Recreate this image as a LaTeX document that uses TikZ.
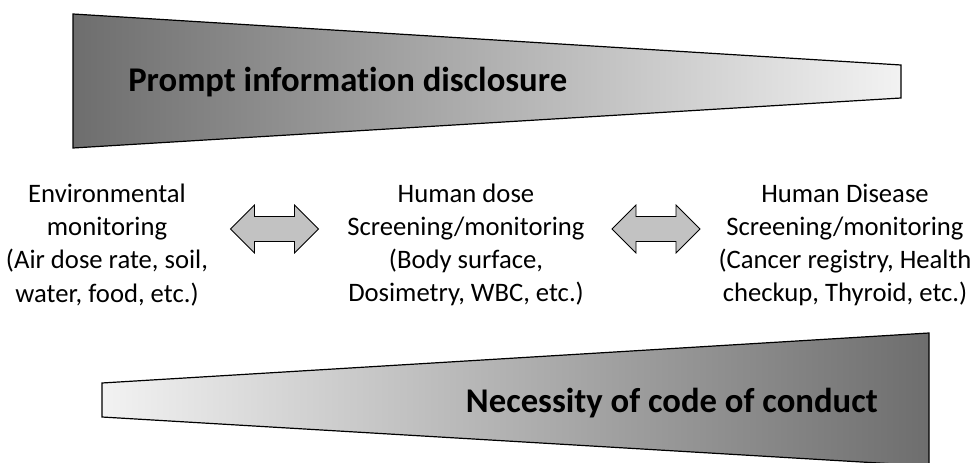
\documentclass[tikz,border=0pt]{standalone}
\usepackage{fontspec}
\setmainfont{Carlito}[Ligatures={NoCommon}]
\definecolor{wedgedark}{gray}{0.43}
\definecolor{wedgemid}{gray}{0.89}
\definecolor{wedgelight}{gray}{0.95}
\definecolor{arrowgray}{gray}{0.76}
\begin{document}
\begin{tikzpicture}[x=0.75pt, y=-0.75pt,
    wedge/.style={draw=black, line width=0.9pt},
    title/.style={inner sep=0pt, font=\fontsize{26}{30}\selectfont\bfseries},
    column/.style={align=center, inner sep=0pt, font=\fontsize{20}{24.8}\selectfont},
    twoway/.style={fill=arrowgray, draw=black, line width=0.6pt}]
    \useasboundingbox (0,0) rectangle (970,463);

    % Top wedge (dark on the left, thinning to the right)
    \draw[wedge, left color=wedgedark, middle color=wedgemid, right color=wedgelight]
        (73,14) -- (901,65) -- (901,98) -- (73,148) -- cycle;
    \node[title, anchor=base west] (prompt) at (128,92) {Prompt information disclosure};

    % Three columns of monitoring
    \node[column] (env) at (107,245) {Environmental\\monitoring\\(Air dose rate, soil,\\water, food, etc.)};
    \node[column] (dose) at (466,245) {Human dose\\Screening/monitoring\\(Body surface,\\Dosimetry, WBC, etc.)};
    \node[column] (disease) at (845,245) {Human Disease\\Screening/monitoring\\(Cancer registry, Health\\checkup, Thyroid, etc.)};

    % Double arrows between the columns
    \foreach \cx in {274.5, 656} {
        \filldraw[twoway] (\cx-44,229) -- (\cx-20,205) -- (\cx-20,216.5) -- (\cx+20,216.5)
            -- (\cx+20,205) -- (\cx+44,229) -- (\cx+20,253) -- (\cx+20,241.5)
            -- (\cx-20,241.5) -- (\cx-20,253) -- cycle;
    }

    % Bottom wedge (light on the left, widening to the right)
    \draw[wedge, left color=wedgelight, middle color=wedgemid, right color=wedgedark]
        (102,383) -- (929,333) -- (929,466) -- (102,417) -- cycle;
    \node[title, anchor=base east] (conduct) at (878,412) {Necessity of code of conduct};
\end{tikzpicture}
\end{document}
